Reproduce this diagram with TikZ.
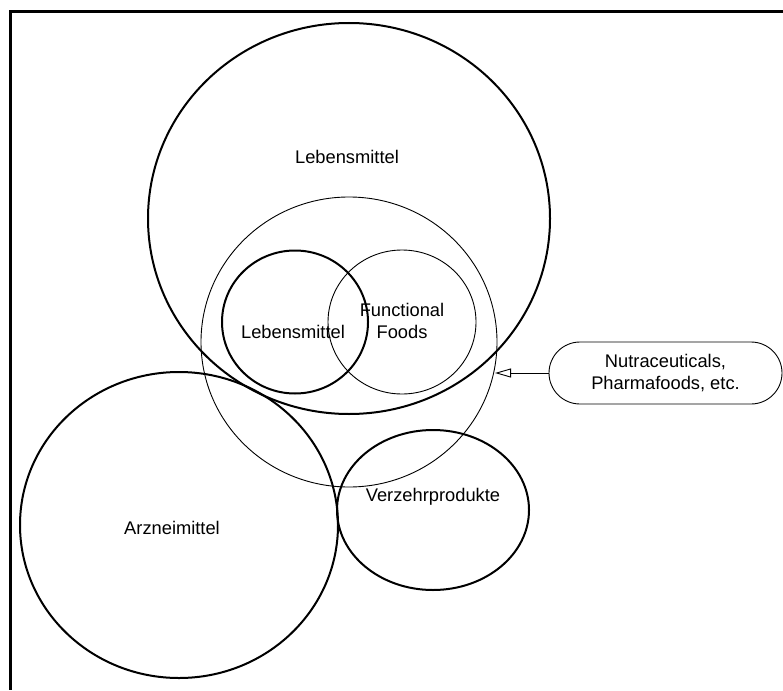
\documentclass[tikz,border=0pt]{standalone}
\usepackage{fontspec}
\setmainfont{Liberation Sans}
\usetikzlibrary{shapes.geometric,shapes.misc,arrows.meta}
\begin{document}
\begin{tikzpicture}[x=1pt,y=-1pt,
  thickset/.style={draw,ellipse,line width=2pt,inner sep=0pt,outer sep=0pt},
  thinset/.style={draw,ellipse,line width=0.9pt,inner sep=0pt,outer sep=0pt},
  lbl/.style={font=\fontsize{18.3}{22}\selectfont,align=center,inner sep=0pt},
  frameline/.style={line width=2.6pt}
]
\useasboundingbox (0,0) rectangle (783,690);
% frame (top and left only)
\coordinate (fTR) at (783,11.3);
\coordinate (fTL) at (10.3,11.3);
\coordinate (fBL) at (10.3,690);
\draw[frameline] (fTR) -- (fTL) -- (fBL);
% sets
\node[thickset,minimum width=402pt,minimum height=391pt] (food) at (349,218.5) {};
\node[thinset,minimum width=296pt,minimum height=290pt] (mid) at (349,342) {};
\node[thickset,minimum width=146pt,minimum height=143pt] (lm) at (295,322) {};
\node[thinset,minimum width=148pt,minimum height=144pt] (ff) at (402,322) {};
\node[thickset,minimum width=318pt,minimum height=306pt] (arz) at (179,525) {};
\node[thickset,minimum width=192pt,minimum height=160pt] (vz) at (433,510) {};
% labels
\node[lbl] (tfood) at (347,157) {Lebensmittel};
\node[lbl] (tlm) at (293,332) {Lebensmittel};
\node[lbl] (tff) at (402,321) {Functional\\Foods};
\node[lbl] (tarz) at (172,528) {Arzneimittel};
\node[lbl] (tvz) at (433,497) {Verzehrprodukte};
% callout
\node[draw,rounded rectangle,line width=0.9pt,minimum width=233pt,minimum height=62pt,lbl] (nut) at (665.5,373) {Nutraceuticals,\\Pharmafoods, etc.};
\coordinate (tip) at (495,373);
\draw[line width=0.9pt,-{Triangle[open,length=16pt,width=9pt]}] (nut.west) -- (tip);
\end{tikzpicture}
\end{document}
